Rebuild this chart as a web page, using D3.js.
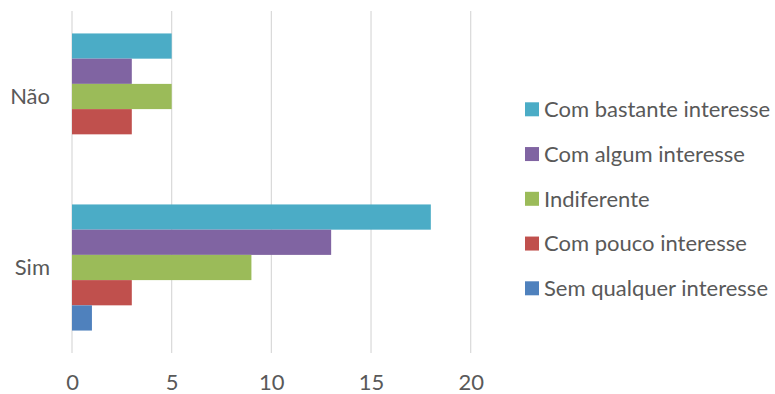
<!DOCTYPE html>
<html>
<head>
<meta charset="utf-8">
<script src="https://cdn.jsdelivr.net/npm/d3@7"></script>
<style>
  html, body { margin: 0; padding: 0; background: #ffffff; }
  svg text { font-family: Lato, "Open Sans", sans-serif; fill: #595959; }
</style>
</head>
<body>
<svg id="chart" width="775" height="394"></svg>
<script>
// Answer groups, top to bottom
const categories = ["Não", "Sim"];

// Series in legend order (top of each group first)
const seriesNames = [
  "Com bastante interesse",
  "Com algum interesse",
  "Indiferente",
  "Com pouco interesse",
  "Sem qualquer interesse"
];
const seriesColors = ["#4BACC6", "#8064A2", "#9BBB59", "#C0504D", "#4F81BD"];

// Counts per series, indexed like categories
const bastante = [5, 18];
const algum    = [3, 13];
const indif    = [5, 9];
const pouco    = [3, 3];
const sem      = [0, 1];
const seriesValues = [bastante, algum, indif, pouco, sem];

const xTicks = [0, 5, 10, 15, 20];

const svg = d3.select("#chart");
const fontSize = 22;

const x = d3.scaleLinear().domain([0, 20]).range([72, 470.7]);
const y = d3.scaleBand().domain(categories).range([11, 353]).padding(0);
const yInner = d3.scaleBand()
  .domain(seriesNames)
  .range([0, y.bandwidth()])
  .paddingInner(0)
  .paddingOuter(0.89);

// vertical gridlines
svg.append("g")
  .selectAll("line")
  .data(xTicks)
  .join("line")
  .attr("x1", d => x(d)).attr("x2", d => x(d))
  .attr("y1", 11).attr("y2", 353)
  .attr("stroke", "#D9D9D9")
  .attr("stroke-width", 1.2);

// bars
const groups = svg.append("g")
  .selectAll("g")
  .data(categories)
  .join("g")
  .attr("transform", d => `translate(0,${y(d)})`);

groups.selectAll("rect")
  .data((c, ci) => seriesNames.map((s, si) => ({ s, si, v: seriesValues[si][ci] })))
  .join("rect")
  .attr("x", x(0))
  .attr("y", d => yInner(d.s))
  .attr("width", d => x(d.v) - x(0))
  .attr("height", yInner.bandwidth())
  .attr("fill", d => seriesColors[d.si]);

// x axis tick labels
const xAxis = d3.axisBottom(x).tickValues(xTicks).tickSize(0).tickPadding(0);
const xg = svg.append("g").attr("transform", "translate(0,375)").call(xAxis);
xg.select(".domain").remove();
xg.selectAll("text")
  .attr("dy", null)
  .attr("y", 15)
  .style("font-size", fontSize + "px")
  .style("font-family", "Lato, sans-serif")
  .attr("fill", "#595959");

// category labels
const yAxis = d3.axisLeft(y).tickSize(0).tickPadding(0);
const yg = svg.append("g").attr("transform", "translate(50,0)").call(yAxis);
yg.select(".domain").remove();
yg.selectAll("text")
  .attr("x", 0)
  .attr("dy", "0.36em")
  .style("font-size", fontSize + "px")
  .style("font-family", "Lato, sans-serif")
  .attr("fill", "#595959");

// legend
const legend = svg.append("g")
  .selectAll("g")
  .data(seriesNames)
  .join("g")
  .attr("transform", (d, i) => `translate(525,${109.3 + i * 44.75})`);

legend.append("rect")
  .attr("x", 0).attr("y", -7)
  .attr("width", 14).attr("height", 14)
  .attr("fill", (d, i) => seriesColors[i]);

legend.append("text")
  .attr("x", 19)
  .attr("dy", "0.36em")
  .style("font-size", fontSize + "px")
  .text(d => d);
</script>
</body>
</html>
